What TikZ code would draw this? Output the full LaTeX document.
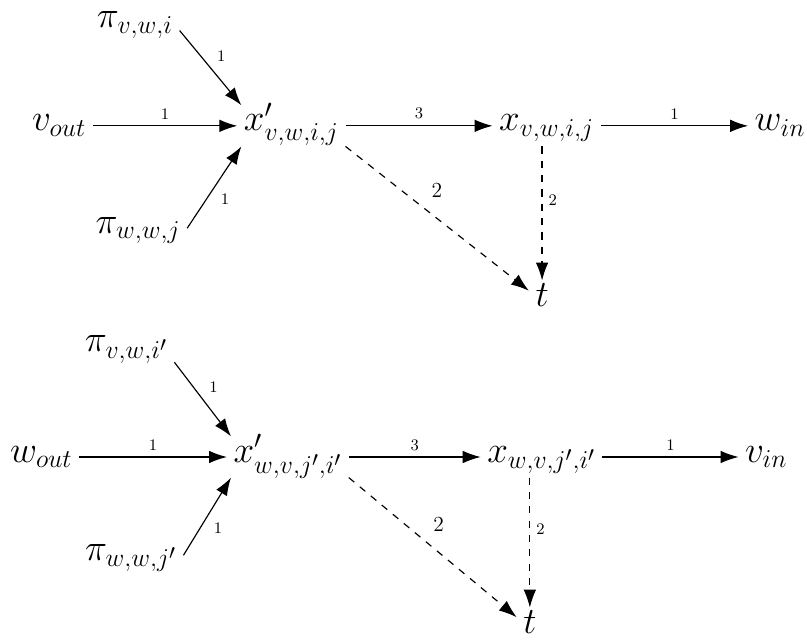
\documentclass[tikz,border=0pt]{standalone}
\usepackage{amsmath}
\usetikzlibrary{positioning, arrows.meta}
\tikzset{>={Latex[length=10pt,width=7pt]}}
\tikzset{
    vertex/.style = {font=\huge, inner sep=3.5pt, text height=10.6pt, text depth=5pt},
    weight/.style = {font=\small},
    bigweight/.style = {font=\large},
    edge/.style = {->, line width=0.65pt},
    redge/.style = {->, line width=0.65pt, dash pattern=on 4pt off 4pt}
}

\begin{document}
\begin{tikzpicture}
		\useasboundingbox (0,0) rectangle (15.84,-12.64);
		% gadget for v -> w
		\node (vout) [vertex] at (1.16,-2.47) {$v_{out}$};
		\node (xpa) [vertex] at (5.72,-2.47) {$x'_{v,w,i,j}$};
		\node (xa) [vertex] at (10.73,-2.47) {$x_{v,w,i,j}$};
		\node (win) [vertex] at (15.31,-2.47) {$w_{in}$};
		\node (pia) [vertex] at (2.65,-0.45) {$\pi_{v,w,i}$};
		\node (pib) [vertex] at (2.71,-4.48) {$\pi_{w,w,j}$};
		\node (ta) [vertex] at (10.64,-5.91) {$t$};
		\draw [edge] (vout) to node[weight, above] {1} (xpa);
		\draw [edge] ([yshift=-0.15cm]pia.east) to node[weight, above right] {1} ([xshift=0.08cm]xpa.north west);
		\draw [edge] (pib.east) to node[weight, below right] {1} ([xshift=0.08cm]xpa.south west);
		\draw [edge] (xpa) to node[weight, above] {3} (xa);
		\draw [edge] (xa) to node[weight, above] {1} (win);
		\draw [redge] (xpa.south east) to node[bigweight, pos=0.42, above right=2pt] {2} (ta);
		\draw [redge] (xa.south -| ta) to node[weight, pos=0.4, right] {2} (ta);
		% gadget for w -> v
		\node (wout) [vertex] at (0.81,-8.97) {$w_{out}$};
		\node (xpb) [vertex] at (5.65,-8.97) {$x'_{w,v,j',i'}$};
		\node (xb) [vertex] at (10.63,-8.97) {$x_{w,v,j',i'}$};
		\node (vin) [vertex] at (15.04,-8.97) {$v_{in}$};
		\node (pic) [vertex] at (2.48,-6.81) {$\pi_{v,w,i'}$};
		\node (pid) [vertex] at (2.57,-10.90) {$\pi_{w,w,j'}$};
		\node (tb) [vertex] at (10.40,-12.33) {$t$};
		\draw [edge] (wout) to node[weight, above] {1} (xpb);
		\draw [edge] ([yshift=-0.3cm]pic.east) to node[weight, above right] {1} ([xshift=0.08cm]xpb.north west);
		\draw [edge] (pid.east) to node[weight, below right] {1} ([xshift=0.08cm]xpb.south west);
		\draw [edge] (xpb) to node[weight, above] {3} (xb);
		\draw [edge] (xb) to node[weight, above] {1} (vin);
		\draw [redge] (xpb.south east) to node[bigweight, pos=0.45, above right=2pt] {2} (tb);
		\draw [redge] (xb.south -| tb) to node[weight, pos=0.4, right] {2} (tb);
	\end{tikzpicture}
\end{document}
